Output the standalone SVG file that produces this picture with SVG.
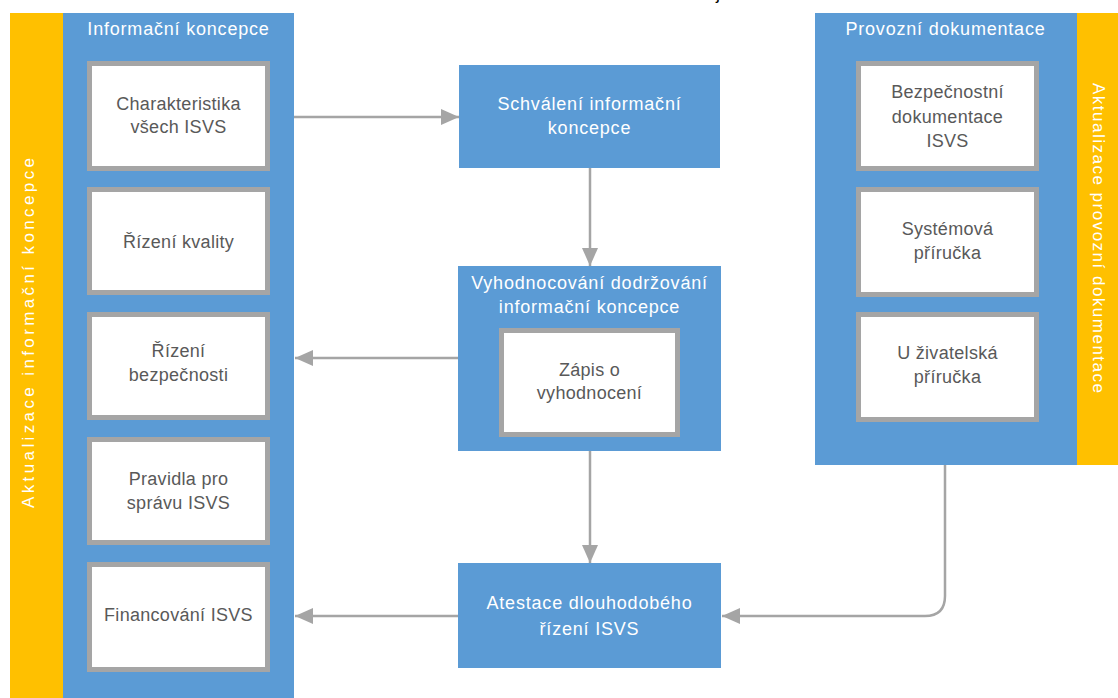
<svg xmlns="http://www.w3.org/2000/svg" width="1118" height="698" viewBox="0 0 1118 698">
  <defs>
    <marker id="arrow" viewBox="0 0 18 16" refX="18" refY="8" markerWidth="18" markerHeight="16" markerUnits="userSpaceOnUse" orient="auto">
      <path d="M0,0 L18,8 L0,16 Z" fill="#a5a5a5"/>
    </marker>
    <style>
      .band { fill: #ffc000; }
      .panel { fill: #5b9bd5; }
      .card { fill: #ffffff; stroke: #a5a5a5; stroke-width: 5; }
      .title { font-family: "Liberation Sans", Arial, sans-serif; font-size: 18px; fill: #ffffff; text-anchor: middle; letter-spacing: 0.8px; }
      .label { font-family: "Liberation Sans", Arial, sans-serif; font-size: 18px; fill: #595959; text-anchor: middle; letter-spacing: 0.3px; }
      .side { font-family: "Liberation Sans", Arial, sans-serif; font-size: 17px; fill: #ffffff; text-anchor: middle; }
      .link { fill: none; stroke: #a5a5a5; stroke-width: 2.5; marker-end: url(#arrow); }
    </style>
  </defs>

  <rect width="1118" height="698" fill="#ffffff"/>

  <!-- clipped descender from the line above -->
  <text x="716" y="-1" font-family="Liberation Sans, Arial, sans-serif" font-size="18" fill="#000000">j</text>

  <!-- left side: information concept -->
  <g id="aktualizace-koncepce">
    <rect class="band" x="10" y="13" width="53" height="685"/>
    <text class="side" transform="translate(34,333) rotate(-90)" textLength="350" lengthAdjust="spacing">Aktualizace informační koncepce</text>
  </g>
  <g id="informacni-koncepce">
    <rect class="panel" x="63" y="13" width="231" height="685"/>
    <text class="title" x="178.5" y="35">Informační  koncepce</text>
  </g>
  <g id="charakteristika">
    <rect class="card" x="89.5" y="63.5" width="178" height="105"/>
    <text class="label" x="178.5" y="110">Charakteristika</text>
    <text class="label" x="178.5" y="133">všech ISVS</text>
  </g>
  <g id="rizeni-kvality">
    <rect class="card" x="89.5" y="189.5" width="178" height="103"/>
    <text class="label" x="178.5" y="248">Řízení kvality</text>
  </g>
  <g id="rizeni-bezpecnosti">
    <rect class="card" x="89.5" y="314.5" width="178" height="103"/>
    <text class="label" x="178.5" y="357">Řízení</text>
    <text class="label" x="178.5" y="381">bezpečnosti</text>
  </g>
  <g id="pravidla">
    <rect class="card" x="89.5" y="439.5" width="178" height="103"/>
    <text class="label" x="178.5" y="485">Pravidla pro</text>
    <text class="label" x="178.5" y="509">správu ISVS</text>
  </g>
  <g id="financovani">
    <rect class="card" x="89.5" y="564.5" width="178" height="105"/>
    <text class="label" x="178.5" y="621">Financování ISVS</text>
  </g>

  <!-- centre column -->
  <g id="schvaleni">
    <rect class="panel" x="459" y="65" width="261" height="103"/>
    <text class="title" x="589.5" y="110">Schválení  informační</text>
    <text class="title" x="589.5" y="134">koncepce</text>
  </g>
  <g id="vyhodnocovani">
    <rect class="panel" x="458" y="266" width="263" height="185"/>
    <text class="title" x="589.5" y="289">Vyhodnocování dodržování</text>
    <text class="title" x="589.5" y="313">informační koncepce</text>
  </g>
  <g id="zapis">
    <rect class="card" x="501.5" y="330.5" width="176" height="104"/>
    <text class="label" x="589.5" y="376">Zápis o</text>
    <text class="label" x="589.5" y="399">vyhodnocení</text>
  </g>
  <g id="atestace">
    <rect class="panel" x="458" y="563" width="263" height="105"/>
    <text class="title" x="589.5" y="609">Atestace dlouhodobého</text>
    <text class="title" x="589.5" y="635">řízení ISVS</text>
  </g>

  <!-- right side: operating documentation -->
  <g id="provozni-dokumentace">
    <rect class="panel" x="815" y="13" width="262" height="452"/>
    <text class="title" x="945.5" y="35">Provozní dokumentace</text>
  </g>
  <g id="aktualizace-dokumentace">
    <rect class="band" x="1077" y="13" width="41" height="452"/>
    <text class="side" transform="translate(1093,238) rotate(90)" textLength="310" lengthAdjust="spacing">Aktualizace provozní dokumentace</text>
  </g>
  <g id="bezpecnostni-dokumentace">
    <rect class="card" x="858.5" y="63.5" width="178" height="105"/>
    <text class="label" x="947.5" y="98">Bezpečnostní</text>
    <text class="label" x="947.5" y="123">dokumentace</text>
    <text class="label" x="947.5" y="147">ISVS</text>
  </g>
  <g id="systemova-prirucka">
    <rect class="card" x="858.5" y="189.5" width="178" height="105"/>
    <text class="label" x="947.5" y="235">Systémová</text>
    <text class="label" x="947.5" y="259">příručka</text>
  </g>
  <g id="uzivatelska-prirucka">
    <rect class="card" x="858.5" y="314.5" width="178" height="105"/>
    <text class="label" x="947.5" y="359">U živatelská</text>
    <text class="label" x="947.5" y="383">příručka</text>
  </g>

  <!-- connectors -->
  <g id="connectors">
    <path class="link" d="M294,117 L459,117"/>
    <path class="link" d="M590,168 L590,266"/>
    <path class="link" d="M458,358 L295,358"/>
    <path class="link" d="M590,451 L590,563"/>
    <path class="link" d="M458,616 L295,616"/>
    <path class="link" d="M945,465 L945,596 Q945,616 925,616 L722,616"/>
  </g>
</svg>
